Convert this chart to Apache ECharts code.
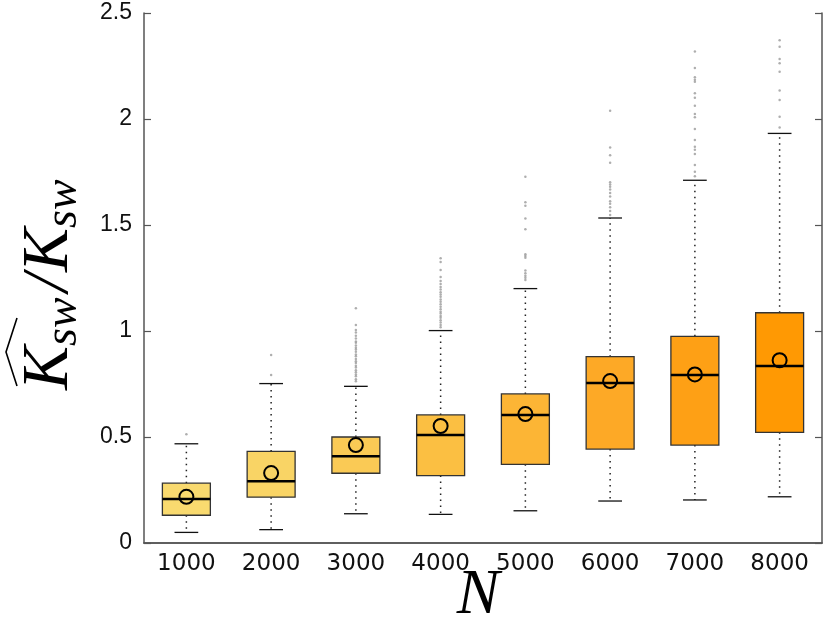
<!DOCTYPE html>
<html>
<head>
<meta charset="utf-8">
<script src="https://cdn.jsdelivr.net/npm/echarts@6/dist/echarts.min.js"></script>
<style>
  html, body { margin: 0; padding: 0; background: #fff; }
  #chart { width: 833px; height: 623px; }
</style>
</head>
<body>
<div id="chart"></div>
<script>
// sample sizes on the x axis
const categories = ['1000', '2000', '3000', '4000', '5000', '6000', '7000', '8000']

// box statistics
const whiskerLow = [0.050, 0.063, 0.138, 0.135, 0.152, 0.198, 0.203, 0.218]
const q1 = [0.131, 0.216, 0.329, 0.318, 0.371, 0.443, 0.462, 0.522]
const median = [0.207, 0.291, 0.409, 0.509, 0.604, 0.755, 0.792, 0.835]
const q3 = [0.282, 0.432, 0.500, 0.604, 0.703, 0.879, 0.975, 1.086]
const whiskerHigh = [0.468, 0.752, 0.739, 1.002, 1.200, 1.533, 1.711, 1.932]
const mean = [0.218, 0.330, 0.462, 0.552, 0.608, 0.764, 0.795, 0.862]

// outliers per category
const outliers1000 = [0.513]
const outliers2000 = [0.792, 0.887]
const outliers3000 = [1.107, 1.028, 1.005, 0.993, 0.978, 0.965, 0.951, 0.944, 0.932, 0.921, 0.913, 0.902,
  0.889, 0.881, 0.868, 0.857, 0.849, 0.836, 0.828, 0.815, 0.806, 0.795, 0.786, 0.772, 0.763]
const outliers4000 = [1.343, 1.325, 1.288, 1.255, 1.236, 1.222, 1.208, 1.196, 1.183, 1.172, 1.161, 1.149,
  1.138, 1.126, 1.114, 1.103, 1.091, 1.082, 1.071, 1.062, 1.051, 1.040, 1.028, 1.018]
const outliers5000 = [1.728, 1.607, 1.591, 1.531, 1.480, 1.362, 1.354, 1.345, 1.285, 1.272, 1.261, 1.251, 1.240]
const outliers6000 = [2.039, 1.865, 1.829, 1.794, 1.702, 1.691, 1.680, 1.668, 1.651, 1.634, 1.612, 1.600,
  1.584, 1.566, 1.547]
const outliers7000 = [2.318, 2.241, 2.197, 2.185, 2.176, 2.121, 2.100, 2.063, 2.024, 2.008, 1.953, 1.901,
  1.869, 1.855, 1.835, 1.783, 1.751, 1.730]
const outliers8000 = [2.371, 2.341, 2.283, 2.263, 2.223, 2.134, 2.090, 2.011, 1.960]

const yTicks = [0, 0.5, 1, 1.5, 2, 2.5]

const boxColors = ['#F9DA6F', '#F9D465', '#FACA55', '#FBBF42', '#FCB535', '#FDA926', '#FEA015', '#FF9903']

const outlierLists = [outliers1000, outliers2000, outliers3000, outliers4000,
  outliers5000, outliers6000, outliers7000, outliers8000]

const boxData = categories.map((c, i) => [i, whiskerLow[i], q1[i], median[i], q3[i], whiskerHigh[i], mean[i]])
const outlierData = []
outlierLists.forEach((list, i) => list.forEach(v => outlierData.push([i, v])))

const axisColor = '#555'

const renderBox = (params, api) => {
  const i = api.value(0)
  const pLow = api.coord([i, api.value(1)])
  const pQ1 = api.coord([i, api.value(2)])
  const pMed = api.coord([i, api.value(3)])
  const pQ3 = api.coord([i, api.value(4)])
  const pHigh = api.coord([i, api.value(5)])
  const pMean = api.coord([i, api.value(6)])
  const band = api.size([1, 0])[0]
  const bw = band * 0.566
  const cw = band * 0.28
  const x = pMed[0]
  const dotted = { stroke: '#222', lineWidth: 1.5, lineDash: [1.5, 4.5] }
  const solid = { stroke: '#111', lineWidth: 1.3 }
  return {
    type: 'group',
    children: [
      { type: 'line', shape: { x1: x, y1: pQ3[1], x2: x, y2: pHigh[1] }, style: dotted },
      { type: 'line', shape: { x1: x, y1: pQ1[1], x2: x, y2: pLow[1] }, style: dotted },
      { type: 'line', shape: { x1: x - cw / 2, y1: pHigh[1], x2: x + cw / 2, y2: pHigh[1] }, style: solid },
      { type: 'line', shape: { x1: x - cw / 2, y1: pLow[1], x2: x + cw / 2, y2: pLow[1] }, style: solid },
      {
        type: 'rect',
        shape: { x: x - bw / 2, y: pQ3[1], width: bw, height: pQ1[1] - pQ3[1] },
        style: { fill: boxColors[params.dataIndex], stroke: '#333', lineWidth: 1.3 }
      },
      { type: 'line', shape: { x1: x - bw / 2, y1: pMed[1], x2: x + bw / 2, y2: pMed[1] }, style: { stroke: '#000', lineWidth: 2.5 } },
      { type: 'circle', shape: { cx: pMean[0], cy: pMean[1], r: 7 }, style: { fill: 'transparent', stroke: '#000', lineWidth: 2 } }
    ]
  }
}

const chart = echarts.init(document.getElementById('chart'), null, { renderer: 'canvas' })

const bigFont = 'italic 66px "Liberation Serif", "Times New Roman", serif'
const subFont = 'italic 46px "Liberation Serif", "Times New Roman", serif'

chart.setOption({
  animation: false,
  backgroundColor: '#fff',
  grid: { left: 144, right: 11, top: 13, bottom: 80 },
  xAxis: [
    {
      type: 'category',
      data: categories,
      position: 'bottom',
      axisLine: { lineStyle: { color: axisColor, width: 1.5 } },
      axisTick: { alignWithLabel: true, inside: true, length: 7, lineStyle: { color: axisColor, width: 1.2 } },
      axisLabel: { color: '#111', fontFamily: 'DejaVu Sans', fontSize: 23, margin: 10 },
      splitLine: { show: false }
    },
    {
      type: 'category',
      data: categories,
      position: 'top',
      axisLine: { lineStyle: { color: axisColor, width: 1.5 } },
      axisTick: { alignWithLabel: true, inside: true, length: 7, lineStyle: { color: axisColor, width: 1.2 } },
      axisLabel: { show: false }
    }
  ],
  yAxis: [
    {
      type: 'value',
      min: 0,
      max: 2.5,
      interval: 0.5,
      position: 'left',
      axisLine: { show: true, lineStyle: { color: axisColor, width: 1.5 } },
      axisTick: { show: true, inside: true, length: 7, lineStyle: { color: axisColor, width: 1.2 } },
      axisLabel: {
        color: '#111', fontFamily: 'Liberation Sans', fontSize: 23, margin: 12,
        formatter: v => yTicks.includes(v) ? String(v) : ''
      },
      splitLine: { show: false }
    },
    {
      type: 'value',
      min: 0,
      max: 2.5,
      interval: 0.5,
      position: 'right',
      axisLine: { show: true, lineStyle: { color: axisColor, width: 1.5 } },
      axisTick: { show: true, inside: true, length: 7, lineStyle: { color: axisColor, width: 1.2 } },
      axisLabel: { show: false },
      splitLine: { show: false }
    }
  ],
  series: [
    {
      type: 'custom',
      name: 'box',
      xAxisIndex: 0,
      yAxisIndex: 0,
      renderItem: renderBox,
      data: boxData,
      z: 2
    },
    {
      type: 'scatter',
      name: 'outliers',
      xAxisIndex: 0,
      yAxisIndex: 0,
      symbol: 'circle',
      symbolSize: 2.5,
      itemStyle: { color: '#9a9a9a' },
      data: outlierData,
      z: 1
    }
  ],
  graphic: [
    // x axis name
    {
      type: 'text',
      x: 478,
      y: 596,
      style: { text: 'N', font: 'italic 64px "Liberation Serif", serif', fill: '#000', textAlign: 'center', textVerticalAlign: 'middle' }
    },
    // y axis name: hat(K_sw) / K_sw, rotated
    {
      type: 'group',
      x: 72,
      y: 390,
      rotation: Math.PI / 2,
      children: [
        { type: 'text', x: 0, y: -22, style: { text: 'K', font: bigFont, fill: '#000', textVerticalAlign: 'middle' } },
        { type: 'text', x: 44, y: -8, style: { text: 'sw', font: subFont, fill: '#000', textVerticalAlign: 'middle' } },
        { type: 'text', x: 98, y: -22, style: { text: '/', font: bigFont, fill: '#000', textVerticalAlign: 'middle' } },
        { type: 'text', x: 118, y: -22, style: { text: 'K', font: bigFont, fill: '#000', textVerticalAlign: 'middle' } },
        { type: 'text', x: 162, y: -8, style: { text: 'sw', font: subFont, fill: '#000', textVerticalAlign: 'middle' } },
        {
          type: 'polyline',
          shape: { points: [[4, -55], [38, -66], [72, -55]] },
          style: { stroke: '#000', lineWidth: 1.6, fill: null }
        }
      ]
    }
  ]
})
</script>
</body>
</html>
